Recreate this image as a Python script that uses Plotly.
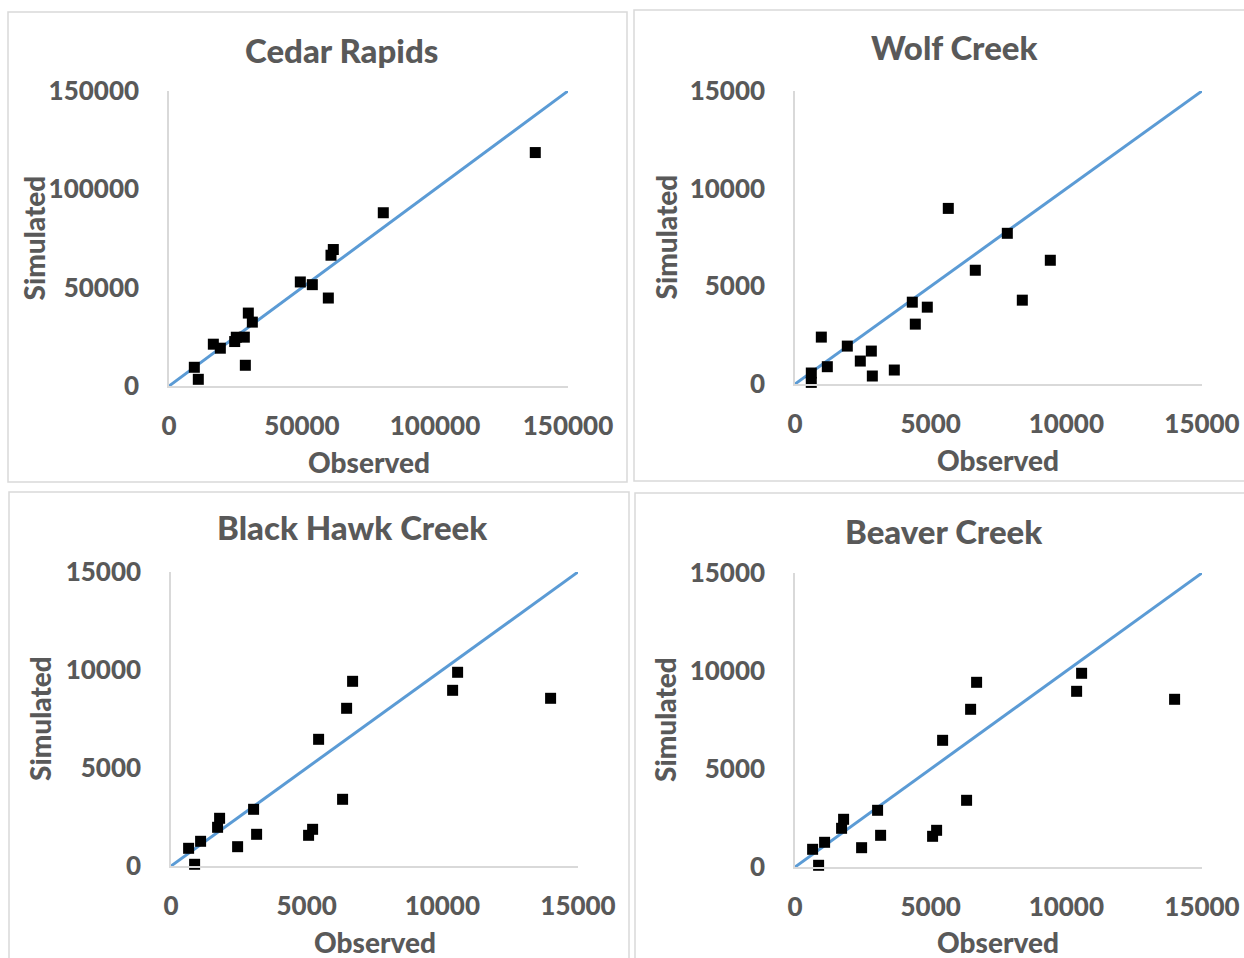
import plotly.graph_objects as go

W, H = 1244, 958

# ---------------- data ----------------
titles = ["Cedar Rapids", "Wolf Creek", "Black Hawk Creek", "Beaver Creek"]

cedar_obs = [137700, 80560, 61770, 60900, 49370, 53880, 59900, 29820, 31330,
             28320, 25300, 24700, 16670, 19300, 28700, 9520, 11020]
cedar_sim = [118700, 88100, 69390, 66500, 52900, 51530, 44730, 37080, 32480,
             24830, 24800, 22600, 21260, 19220, 10540, 9520, 3400]

wolf_obs = [5650, 7825, 9410, 6645, 8378, 4323, 4876, 4434, 970, 1928, 2813,
            2407, 1191, 3660, 2850, 601, 600]
wolf_sim = [8990, 7715, 6335, 5824, 4292, 4189, 3934, 3065, 2401, 1941, 1686,
            1175, 885, 715, 409, 562, 82]

hawk_obs = [10563, 10379, 13990, 6693, 6472, 5440, 6324, 3044, 1791, 1717,
            1091, 649, 870, 2455, 3155, 5219, 5071]
hawk_sim = [9883, 8964, 8556, 9423, 8046, 6464, 3403, 2893, 2434, 1974, 1260,
            903, 87, 985, 1617, 1872, 1566]

beaver_obs = [10563, 10379, 13990, 6693, 6472, 5440, 6324, 3044, 1791, 1717,
              1091, 649, 870, 2455, 3155, 5219, 5071]
beaver_sim = [9883, 8964, 8556, 9423, 8046, 6464, 3403, 2893, 2434, 1974,
              1260, 903, 87, 985, 1617, 1872, 1566]

cedar_ticks = [0, 50000, 100000, 150000]
small_ticks = [0, 5000, 10000, 15000]
cedar_line = [0, 150000]
small_line = [0, 15000]

x_title = "Observed"
y_title = "Simulated"

# ---------------- layout helpers ----------------
def px(x):
    return x / W

def py(y):
    return 1 - y / H

TXT = "#595959"
FONT = "Lato"
WEIGHT = 900
AXC = "#D9D9D9"

panels = [
    dict(obs=cedar_obs, sim=cedar_sim, ticks=cedar_ticks, line=cedar_line,
         area=(169, 568, 91, 386), title=(341, 50), ytx=33, xty=462,
         box=(8, 627, 12, 482)),
    dict(obs=wolf_obs, sim=wolf_sim, ticks=small_ticks, line=small_line,
         area=(795, 1202, 91, 384), title=(955, 47), ytx=665, xty=460,
         box=(634, 1250, 10, 481)),
    dict(obs=hawk_obs, sim=hawk_sim, ticks=small_ticks, line=small_line,
         area=(171, 578, 572, 866), title=(352, 527), ytx=40, xty=942,
         box=(9, 629, 492, 970)),
    dict(obs=beaver_obs, sim=beaver_sim, ticks=small_ticks, line=small_line,
         area=(795, 1202, 573, 867), title=(944, 531), ytx=665, xty=942,
         box=(635, 1250, 493, 970)),
]

fig = go.Figure()
annotations = []
shapes = []

for i, p in enumerate(panels):
    n = "" if i == 0 else str(i + 1)
    xa, ya = "x" + n, "y" + n
    l, r, t, b = p["area"]
    fig.add_trace(go.Scatter(x=p["line"], y=p["line"], mode="lines",
                             line=dict(color="#5B9BD5", width=3),
                             xaxis=xa, yaxis=ya, showlegend=False,
                             hoverinfo="skip", cliponaxis=False))
    fig.add_trace(go.Scatter(x=p["obs"], y=p["sim"], mode="markers",
                             marker=dict(symbol="square", size=11, color="black"),
                             xaxis=xa, yaxis=ya, showlegend=False,
                             cliponaxis=False))
    axis_common = dict(
        showgrid=False, zeroline=False, showline=True, linecolor=AXC,
        linewidth=1.5, ticks="outside", tickcolor="rgba(0,0,0,0)",
        tickvals=p["ticks"], tickformat="d", range=[p["ticks"][0], p["ticks"][-1]],
        tickfont=dict(family=FONT, size=26, color=TXT, weight=WEIGHT),
        automargin=False, fixedrange=True,
    )
    fig.layout["xaxis" + n] = dict(axis_common, domain=[px(l), px(r)],
                                   anchor=ya, ticklen=16)
    fig.layout["yaxis" + n] = dict(axis_common, domain=[py(b), py(t)],
                                   anchor=xa, ticklen=23)
    tx, ty = p["title"]
    annotations.append(dict(text=titles[i], x=px(tx), y=py(ty), xref="paper",
                            yref="paper", showarrow=False, xanchor="center",
                            yanchor="middle",
                            font=dict(family=FONT, size=33, color=TXT,
                                      weight=WEIGHT)))
    annotations.append(dict(text=y_title, x=px(p["ytx"]), y=py((t + b) / 2),
                            xref="paper", yref="paper", showarrow=False,
                            textangle=-90, xanchor="center", yanchor="middle",
                            font=dict(family=FONT, size=28, color=TXT,
                                      weight=WEIGHT)))
    annotations.append(dict(text=x_title, x=px((l + r) / 2), y=py(p["xty"]),
                            xref="paper", yref="paper", showarrow=False,
                            xanchor="center", yanchor="middle",
                            font=dict(family=FONT, size=28, color=TXT,
                                      weight=WEIGHT)))
    bl, br, bt, bb = p["box"]
    shapes.append(dict(type="rect", xref="paper", yref="paper",
                       x0=px(bl), x1=px(br), y0=py(bb), y1=py(bt),
                       line=dict(color=AXC, width=1.5), layer="below"))

fig.update_layout(
    width=W, height=H, margin=dict(l=0, r=0, t=0, b=0),
    paper_bgcolor="white", plot_bgcolor="white", template="none",
    annotations=annotations, shapes=shapes, showlegend=False,
)

fig.write_html("out.html", config={"displayModeBar": False},
               post_script="document.body.style.margin='0';"
                           "document.body.style.overflow='hidden';")
